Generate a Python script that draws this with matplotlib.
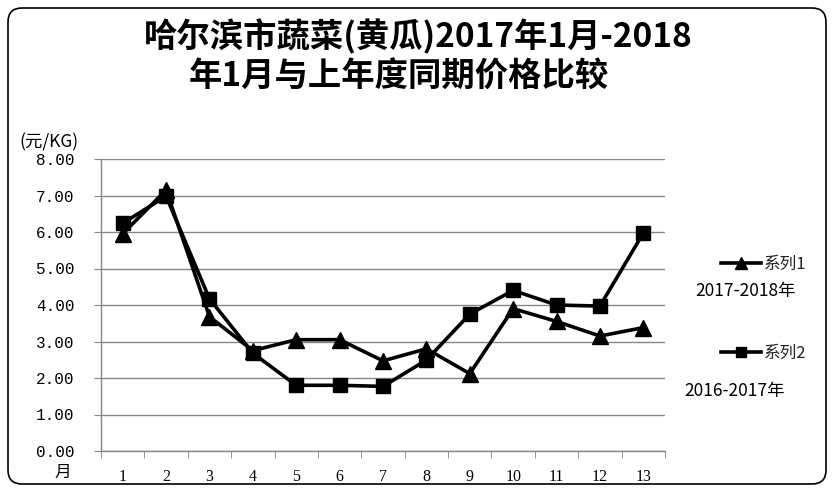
import matplotlib
matplotlib.use("Agg")
import matplotlib.pyplot as plt
from matplotlib.patches import FancyBboxPatch
from matplotlib.transforms import IdentityTransform

plt.rcParams['font.family'] = ['Noto Sans CJK SC', 'DejaVu Sans']

months = [str(i) for i in range(1, 14)]
series1 = [5.95, 7.15, 3.68, 2.75, 3.05, 3.05, 2.47, 2.80, 2.12, 3.90, 3.55, 3.15, 3.38]  # 2017-2018
series2 = [6.24, 6.98, 4.17, 2.68, 1.80, 1.80, 1.77, 2.49, 3.75, 4.40, 4.00, 3.97, 5.97]  # 2016-2017
yticks = [0, 1, 2, 3, 4, 5, 6, 7, 8]
title1 = "哈尔滨市蔬菜(黄瓜)2017年1月-2018"
title2 = "年1月与上年度同期价格比较"
name1, name2 = "系列1", "系列2"
period1, period2 = "2017-2018年", "2016-2017年"

W, H = 834, 492
fig = plt.figure(figsize=(W / 100, H / 100), dpi=100)

# rounded border
border = FancyBboxPatch((8, 8), W - 16, H - 16, boxstyle="round,pad=0,rounding_size=14",
                        transform=IdentityTransform(), facecolor='white', edgecolor='black',
                        linewidth=1.2, zorder=0)
fig.add_artist(border)

ax = fig.add_axes([101 / W, (H - 451) / H, 564 / W, 292 / H])
ax.set_facecolor('none')
x = list(range(len(months)))
ax.plot(x, series1, color='black', lw=2.6, marker='^', markersize=11, zorder=3, label=name1)
ax.plot(x, series2, color='black', lw=2.6, marker='s', markersize=10, zorder=3, label=name2)

ax.set_xlim(-0.5, len(months) - 0.5)
ax.set_ylim(0, 8)
ax.set_yticks(yticks)
ax.set_yticklabels([f"{v:.2f}" for v in yticks], family=['Liberation Mono'], fontsize=11.5)
ax.set_xticks(x)
ax.set_xticklabels(months, family=['Liberation Serif'], fontsize=11.5)
ax.set_xticks([i - 0.5 for i in range(len(months) + 1)], minor=True)
ax.tick_params(axis='x', which='major', length=0, pad=13)
ax.tick_params(axis='x', which='minor', length=5, color='#868686', direction='out')
ax.tick_params(axis='y', length=5, color='#868686', direction='out', pad=14)
ax.grid(axis='y', color='#868686', lw=1)
ax.set_axisbelow(True)
for s in ['top', 'right']:
    ax.spines[s].set_visible(False)
for s in ['left', 'bottom']:
    ax.spines[s].set_color('#868686')
    ax.spines[s].set_linewidth(1)

fig.text(418 / W, 1 - 37 / H, title1, ha='center', va='center', fontsize=24, fontweight='bold')
fig.text(399 / W, 1 - 77 / H, title2, ha='center', va='center', fontsize=24, fontweight='bold')
fig.text(19 / W, 1 - 142 / H, "(元/KG)", ha='left', va='center', fontsize=12.5)
fig.text(63 / W, 1 - 472 / H, "月", ha='center', va='center', fontsize=12)

leg = ax.legend(loc='upper left', bbox_to_anchor=(714 / W, 1 - 249 / H), bbox_transform=fig.transFigure,
                frameon=False, fontsize=12, labelspacing=4.3, handlelength=2.4, handletextpad=0.2,
                markerscale=0.75, borderaxespad=0)
for t in leg.get_texts():
    t.set_color('#222222')
fig.text(745 / W, 1 - 291 / H, period1, ha='center', va='center', fontsize=12.5,
         family=['Liberation Sans Narrow', 'Noto Sans CJK SC'])
fig.text(735 / W, 1 - 391 / H, period2, ha='center', va='center', fontsize=12.5,
         family=['Liberation Sans Narrow', 'Noto Sans CJK SC'])

fig.savefig("out.png", dpi=100)
